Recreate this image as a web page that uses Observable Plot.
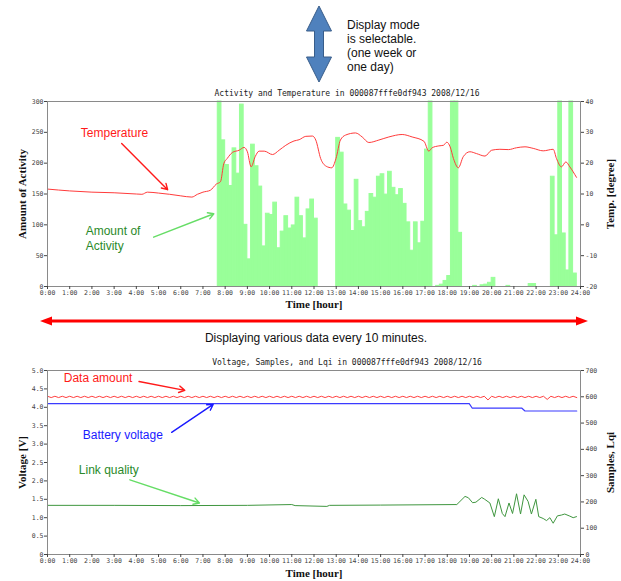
<!DOCTYPE html>
<html><head><meta charset="utf-8">
<script src="https://cdn.jsdelivr.net/npm/d3@7"></script>
<script src="https://cdn.jsdelivr.net/npm/@observablehq/plot@0.6"></script>
<style>
html,body{margin:0;padding:0;background:#fff;}
#page{position:relative;width:621px;height:581px;overflow:hidden;font-family:"Liberation Sans",Arial,sans-serif;}
#deco{position:absolute;left:0;top:0;}
#top{position:absolute;left:0;top:85px;}
#bottom{position:absolute;left:0;top:350px;}
</style></head><body><div id="page">
<svg id="deco" width="621" height="581" xmlns="http://www.w3.org/2000/svg">
  <polygon points="319,6 306.5,31 314.5,31 314.5,57 306.5,57 319,82 331.5,57 323.5,57 323.5,31 331.5,31" fill="#4f81bd" stroke="#385d8a" stroke-width="1"/>
  <g font-family="Liberation Sans, Arial, sans-serif" font-size="12" fill="#111">
    <text x="347" y="29">Display mode</text>
    <text x="347" y="43">is selectable.</text>
    <text x="347" y="57">(one week or</text>
    <text x="347" y="71">one day)</text>
  </g>
  <line x1="50" y1="321" x2="578" y2="321" stroke="#ff0000" stroke-width="3"/>
  <polygon points="40,321 52,316.5 52,325.5" fill="#ff0000"/>
  <polygon points="588,321 576,316.5 576,325.5" fill="#ff0000"/>
  <text x="316" y="342" text-anchor="middle" font-family="Liberation Sans, Arial, sans-serif" font-size="12" fill="#111">Displaying various data every 10 minutes.</text>
</svg>
<div id="top"></div>
<div id="bottom"></div>
</div>
<script>
// ---------- shared axis ticks ----------
const hourTicks = [0,1,2,3,4,5,6,7,8,9,10,11,12,13,14,15,16,17,18,19,20,21,22,23,24];
const hourLabels = ["0:00","1:00","2:00","3:00","4:00","5:00","6:00","7:00","8:00","9:00","10:00","11:00","12:00","13:00","14:00","15:00","16:00","17:00","18:00","19:00","20:00","21:00","22:00","23:00","24:00"];

// ---------- top chart data ----------
const activityTicks = [0,50,100,150,200,250,300];
const activityTickLabels = ["0","50","100","150","200","250","300"];
const tempTicks = [-20,-10,0,10,20,30,40];
const tempTickLabels = ["-20","-10","0","10","20","30","40"];

const activityTimes = [
  "7:40","7:50","8:00","8:10","8:20","8:30","8:40","8:50","9:00","9:10","9:20","9:30","9:40","9:50",
  "10:00","10:10","10:20","10:30","10:40","10:50","11:00","11:10","11:20","11:30","11:40","11:50","12:00",
  "13:00","13:10","13:20","13:30","13:40","13:50","14:00","14:10","14:20","14:30","14:40","14:50",
  "15:00","15:10","15:20","15:30","15:40","15:50","16:00","16:10","16:20","16:30","16:40","16:50","17:00","17:10",
  "17:30","17:40","17:50","18:00","18:10","18:20","18:30","19:10","19:30","19:40","19:50","20:00","20:40","21:40","21:50",
  "22:40","22:50","23:00","23:10","23:20","23:30","23:40"
];
const activityCounts = [
  300,237,197,163,224,183,295,100,44,230,195,162,65,118,
  116,136,62,89,114,94,99,144,114,78,125,141,110,
  241,217,133,123,90,173,106,96,121,150,144,178,
  182,149,186,160,148,158,134,104,58,104,70,105,222,300,
  1,3,9,17,300,300,87,1,2,3,6,14,1,4,4,
  178,83,300,86,26,300,21
];

const tempHours = [0,1,2,3,4,4.25,4.5,5,5.5,6,6.5,6.75,7,7.33,7.6,7.79,7.94,8.09,8.33,8.63,8.85,9.0,9.17,9.35,9.53,9.76,
  10.13,10.43,10.73,11.1,11.33,11.63,11.93,12.08,12.3,12.55,12.8,12.99,13.19,13.42,13.87,14.17,14.47,14.92,15.37,15.97,
  16.42,16.95,17.17,17.32,17.62,17.83,17.98,18.13,18.28,18.5,18.72,19.02,19.32,19.7,20.0,20.37,20.75,21.12,21.5,21.87,
  22.32,22.77,22.92,23.14,23.34,23.52,23.82];
const tempValues = [11.6,11.0,10.6,10.4,10.0,9.9,10.6,10.3,9.9,9.4,9.0,9.9,10.6,11.2,13.2,14.0,19.9,21.5,23.5,24.2,25.1,23.7,18.8,22.1,23.9,23.9,
  22.8,24.2,25.8,27.2,27.6,28.7,28.8,27.5,21.5,19.0,18.5,21.5,27.5,29.1,29.8,28.5,26.7,27.5,28.5,29.3,
  28.5,27.1,23.9,25.0,25.6,25.8,26.8,25.3,21.5,18.5,22.1,23.7,23.1,22.3,24.2,24.5,24.4,25.0,25.3,24.8,
  24.0,24.5,21.5,18.8,20.4,18.8,15.4];

// annotations (in data units: hour, left-axis value)
const topNotes = [
  {x: 1.50, y: 248, text: "Temperature", color: "#ff1a1a"},
  {x: 1.72, y: 90, text: "Amount of", color: "#2a8a2a"},
  {x: 1.72, y: 66, text: "Activity", color: "#2a8a2a"}
];
const topArrows = [
  {x1: 3.34, y1: 232, x2: 5.41, y2: 157, color: "#ff1a1a"},
  {x1: 4.78, y1: 80, x2: 7.49, y2: 118, color: "#66dd66"}
];

// ---------- bottom chart data ----------
const voltTicks = [0,0.5,1,1.5,2,2.5,3,3.5,4,4.5,5];
const voltTickLabels = ["0","0.5","1.0","1.5","2.0","2.5","3.0","3.5","4.0","4.5","5.0"];
const sampleTicks = [0,100,200,300,400,500,600,700];
const sampleTickLabels = ["0","100","200","300","400","500","600","700"];

// data amount, one value every 10 minutes from 0:00 to 23:50
const sampleValues = [
  602,597,602,597,602,597,602,597,602,597,602,597,
  602,597,602,597,602,597,602,597,602,597,602,597,
  602,597,602,597,602,597,602,597,602,597,602,597,
  602,597,602,597,602,597,602,597,602,597,602,597,
  602,597,602,597,602,597,602,597,602,597,602,597,
  602,597,602,597,602,597,602,597,602,597,602,597,
  602,597,602,597,602,597,602,597,602,597,602,597,
  602,597,602,597,602,597,602,597,602,597,602,597,
  602,597,602,597,602,597,602,597,602,597,602,597,
  602,597,602,597,602,597,602,597,602,597,602,588,
  602,597,602,597,602,597,602,597,602,597,602,597,
  602,597,602,590,602,597,602,597,602,597,602,597
];
const batteryHours = [0, 18.99, 19.12, 21.35, 21.5, 23.83];
const batteryVolts = [4.10, 4.10, 3.98, 3.98, 3.90, 3.90];
const lqiHours = [0,3,6,9,11.0,11.15,12.58,12.7,15,18.43,18.8,18.95,19.14,19.29,19.55,19.67,19.92,20.12,20.3,20.48,20.6,20.78,20.94,
  21.12,21.3,21.46,21.64,21.79,21.99,22.12,22.32,22.47,22.62,22.77,22.96,23.14,23.29,23.52,23.67,23.82];
const lqiValues = [187,187,186,187,190,186,183,187,188,190,221,216,197,199,217,211,196,144,212,156,144,196,156,
  231,154,227,202,154,210,144,137,129,140,119,147,150,154,146,140,144];

const bottomNotes = [
  {x: 0.73, y: 4.80, text: "Data amount", color: "#ff1a1a"},
  {x: 1.59, y: 3.23, text: "Battery voltage", color: "#1a1aff"},
  {x: 1.41, y: 2.30, text: "Link quality", color: "#2a8a2a"}
];
const bottomArrows = [
  {x1: 4.12, y1: 4.70, x2: 6.18, y2: 4.46, color: "#ff1a1a"},
  {x1: 5.59, y1: 3.32, x2: 7.46, y2: 4.08, color: "#1a1aff"},
  {x1: 3.71, y1: 2.03, x2: 6.84, y2: 1.40, color: "#66dd66"}
];

// ---------- helpers ----------
const toH = s => { const [h, m] = s.split(":").map(Number); return h + m / 60; };
const tempToAct = t => (t - tempTicks[0]) * 300 / (tempTicks[tempTicks.length-1] - tempTicks[0]);
const samplesToVolt = s => s * 5 / 700;
const lbl = (ticks, labels) => d => labels[ticks.findIndex(t => Math.abs(t - d) < 1e-9)];

const mono = "'DejaVu Sans Mono', monospace";
const serif = "'Liberation Serif', 'Times New Roman', serif";
const sans = "'Liberation Sans', Arial, sans-serif";
const baseStyle = {background: "transparent", fontFamily: mono, fontSize: "6.5px", color: "#444", overflow: "visible"};

const actData = activityTimes.map((t, i) => ({x1: toH(t), x2: toH(t) + 1/6, y: activityCounts[i]}));
const tempData = tempHours.map((h, i) => ({x: h, y: tempToAct(tempValues[i])}));
const tempTickPos = tempTicks.map(tempToAct);

const chart1 = Plot.plot({
  width: 621, height: 230,
  marginLeft: 47, marginRight: 41, marginTop: 16, marginBottom: 29,
  style: baseStyle,
  x: {domain: [0, 24]},
  y: {domain: [0, 300]},
  marks: [
    Plot.rectY(actData, {x1: "x1", x2: "x2", y: "y", fill: "#99ff99", stroke: "#99ff99", strokeWidth: 1}),
    Plot.line(tempData, {x: "x", y: "y", stroke: "#ff3b3b", strokeWidth: 1, curve: "monotone-x"}),
    Plot.frame({stroke: "#8a8a8a"}),
    Plot.axisX({ticks: hourTicks, tickFormat: lbl(hourTicks, hourLabels), tickSize: 3, tickPadding: 1, label: null}),
    Plot.axisY({ticks: activityTicks, tickFormat: lbl(activityTicks, activityTickLabels), tickSize: 3, tickPadding: 1, label: null}),
    Plot.axisY({anchor: "right", ticks: tempTickPos, tickFormat: lbl(tempTickPos, tempTickLabels), tickSize: 3, tickPadding: 2, label: null}),
    Plot.text(["Activity and Temperature in 000087fffe0df943 2008/12/16"], {text: d => d, frameAnchor: "top", lineAnchor: "middle", dy: -8, dx: 33, fontFamily: mono, fontSize: 8, fill: "#222"}),
    Plot.text(["Amount of Activity"], {text: d => d, frameAnchor: "left", textAnchor: "middle", lineAnchor: "middle", rotate: -90, dx: -25, fontFamily: serif, fontSize: 11, fontWeight: "bold", fill: "#111"}),
    Plot.text(["Temp. [degree]"], {text: d => d, frameAnchor: "right", textAnchor: "middle", lineAnchor: "middle", rotate: -90, dx: 30, fontFamily: serif, fontSize: 11, fontWeight: "bold", fill: "#111"}),
    Plot.text(["Time [hour]"], {text: d => d, frameAnchor: "bottom", lineAnchor: "middle", dy: 18, fontFamily: serif, fontSize: 11, fontWeight: "bold", fill: "#111"}),
    Plot.text(topNotes, {x: "x", y: "y", text: "text", fill: d => d.color, textAnchor: "start", lineAnchor: "middle", fontFamily: sans, fontSize: 12}),
    Plot.arrow(topArrows, {x1: "x1", y1: "y1", x2: "x2", y2: "y2", stroke: d => d.color, strokeWidth: 1.4, headLength: 7})
  ]
});
document.getElementById("top").appendChild(chart1);

const sampleData = sampleValues.map((v, i) => ({x: i / 6, y: samplesToVolt(v)}));
const batteryData = batteryHours.map((h, i) => ({x: h, y: batteryVolts[i]}));
const lqiData = lqiHours.map((h, i) => ({x: h, y: samplesToVolt(lqiValues[i])}));
const sampleTickPos = sampleTicks.map(samplesToVolt);

const chart2 = Plot.plot({
  width: 621, height: 231,
  marginLeft: 47, marginRight: 41, marginTop: 20, marginBottom: 27,
  style: baseStyle,
  x: {domain: [0, 24]},
  y: {domain: [0, 5]},
  marks: [
    Plot.line(sampleData, {x: "x", y: "y", stroke: "#ff4040", strokeWidth: 1}),
    Plot.line(batteryData, {x: "x", y: "y", stroke: "#3b3bff", strokeWidth: 1.2}),
    Plot.line(lqiData, {x: "x", y: "y", stroke: "#3f963f", strokeWidth: 1}),
    Plot.frame({stroke: "#8a8a8a"}),
    Plot.axisX({ticks: hourTicks, tickFormat: lbl(hourTicks, hourLabels), tickSize: 3, tickPadding: 1, label: null}),
    Plot.axisY({ticks: voltTicks, tickFormat: lbl(voltTicks, voltTickLabels), tickSize: 3, tickPadding: 1, label: null}),
    Plot.axisY({anchor: "right", ticks: sampleTickPos, tickFormat: lbl(sampleTickPos, sampleTickLabels), tickSize: 3, tickPadding: 2, label: null}),
    Plot.text(["Voltage, Samples, and Lqi in 000087fffe0df943 2008/12/16"], {text: d => d, frameAnchor: "top", lineAnchor: "middle", dy: -8, dx: 33, fontFamily: mono, fontSize: 8, fill: "#222"}),
    Plot.text(["Voltage [V]"], {text: d => d, frameAnchor: "left", textAnchor: "middle", lineAnchor: "middle", rotate: -90, dx: -25, fontFamily: serif, fontSize: 11, fontWeight: "bold", fill: "#111"}),
    Plot.text(["Samples, Lqi"], {text: d => d, frameAnchor: "right", textAnchor: "middle", lineAnchor: "middle", rotate: -90, dx: 30, fontFamily: serif, fontSize: 11, fontWeight: "bold", fill: "#111"}),
    Plot.text(["Time [hour]"], {text: d => d, frameAnchor: "bottom", lineAnchor: "middle", dy: 18.5, fontFamily: serif, fontSize: 11, fontWeight: "bold", fill: "#111"}),
    Plot.text(bottomNotes, {x: "x", y: "y", text: "text", fill: d => d.color, textAnchor: "start", lineAnchor: "middle", fontFamily: sans, fontSize: 12}),
    Plot.arrow(bottomArrows, {x1: "x1", y1: "y1", x2: "x2", y2: "y2", stroke: d => d.color, strokeWidth: 1.4, headLength: 7})
  ]
});
document.getElementById("bottom").appendChild(chart2);
</script>
</body></html>
